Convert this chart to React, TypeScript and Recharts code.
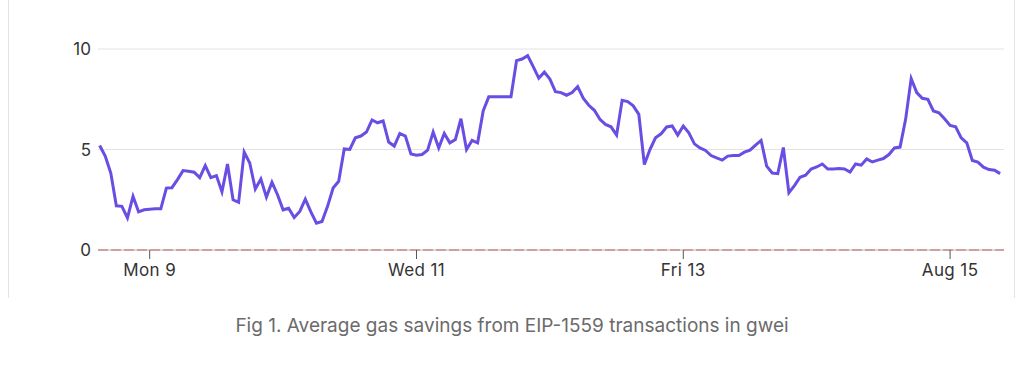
import React from "react";
import { LineChart, Line, XAxis, YAxis, CartesianGrid, ReferenceLine } from "recharts";

// hours since Mon 9 00:00, one reading per hour
const startHour = -9;
const gasSavings = [
  5.2, 4.67, 3.83, 2.2, 2.17, 1.6, 2.67, 1.9, 2.0,
  2.03, 2.05, 2.05, 3.08, 3.1, 3.5, 3.95, 3.92, 3.87, 3.6, 4.2, 3.6, 3.7, 2.9, 4.28, 2.5, 2.37, 4.87, 4.33, 3.03, 3.53, 2.63, 3.37, 2.75,
  2.0, 2.08, 1.62, 1.92, 2.53, 1.9, 1.33, 1.42, 2.17, 3.08, 3.42, 5.03, 5.0, 5.58, 5.67, 5.87, 6.47, 6.33, 6.42, 5.37, 5.17, 5.8, 5.67, 4.78,
  4.72, 4.75, 4.97, 5.87, 5.08, 5.8, 5.33, 5.5, 6.53, 5.0, 5.45, 5.33, 6.92, 7.62, 7.62, 7.62, 7.62, 7.62, 9.42, 9.5, 9.67, 9.12, 8.55, 8.85,
  8.5, 7.88, 7.83, 7.7, 7.83, 8.13, 7.55, 7.2, 6.95, 6.5, 6.25, 6.13, 5.72, 7.45, 7.38, 7.17, 6.75, 4.25, 5.0, 5.58, 5.78, 6.12, 6.17, 5.72,
  6.17, 5.83, 5.28, 5.08, 4.95, 4.7, 4.58, 4.47, 4.67, 4.7, 4.7, 4.87, 4.97, 5.22, 5.45, 4.17, 3.83, 3.8, 5.1, 2.85, 3.2, 3.62, 3.72, 4.03,
  4.13, 4.28, 4.03, 4.03, 4.05, 4.03, 3.88, 4.28, 4.22, 4.53, 4.38, 4.47, 4.55, 4.75, 5.08, 5.12, 6.5, 8.53, 7.83, 7.55, 7.5, 6.92, 6.83, 6.53,
  6.2, 6.13, 5.58, 5.33, 4.45, 4.37, 4.12, 4.0, 3.97, 3.8,
];

const xTicks = [0, 48, 96, 144];
const xTickLabels = ["Mon 9", "Wed 11", "Fri 13", "Aug 15"];
const yTicks = [0, 5, 10];

const data = gasSavings.map((v, i) => ({ hour: startHour + i, value: v }));

const font = "Inter, Roboto, sans-serif";

export default function App() {
  return (
    <div style={{ position: "absolute", left: 0, top: 0, width: 1024, height: 380, background: "#fff" }}>
      {/* frame sides */}
      <div style={{ position: "absolute", left: 8, top: 0, width: 1, height: 298, background: "#e3e3e3" }} />
      <div style={{ position: "absolute", left: 1014, top: 0, width: 1, height: 298, background: "#e3e3e3" }} />

      <LineChart
        width={1024}
        height={290}
        data={data}
        margin={{ top: 49, right: 20, bottom: 10, left: 48 }}
        style={{ position: "absolute", left: 0, top: 0 }}
      >
        <CartesianGrid horizontal vertical={false} stroke="#e2e2e2" />
        <XAxis
          dataKey="hour"
          type="number"
          domain={[-9.3, 153.7]}
          ticks={xTicks}
          tickFormatter={(v: number) => xTickLabels[xTicks.indexOf(v)]}
          axisLine={false}
          tickSize={9}
          tickMargin={5}
          tickLine={{ stroke: "#555" }}
          tick={{ fill: "#333", fontSize: 17, fontFamily: font, letterSpacing: 0.4 }}
        />
        <YAxis
          domain={[0, 10]}
          ticks={yTicks}
          width={50}
          axisLine={false}
          tickLine={false}
          tickSize={0}
          tickMargin={7}
          tick={{ fill: "#333", fontSize: 17, fontFamily: font }}
        />
        <ReferenceLine y={0} stroke="#d3d3d3" strokeWidth={1.5} />
        <ReferenceLine y={0} stroke="#cf8c8c" strokeWidth={1.5} strokeDasharray="10 3" />
        <Line
          dataKey="value"
          stroke="#6a4de3"
          strokeWidth={3}
          dot={false}
          type="linear"
          isAnimationActive={false}
        />
      </LineChart>

      <div
        style={{
          position: "absolute",
          top: 314,
          left: 0,
          width: 1024,
          textAlign: "center",
          fontFamily: font,
          fontSize: 19,
          color: "#6b6b6b",
        }}
      >
        Fig 1. Average gas savings from EIP-1559 transactions in gwei
      </div>
    </div>
  );
}
